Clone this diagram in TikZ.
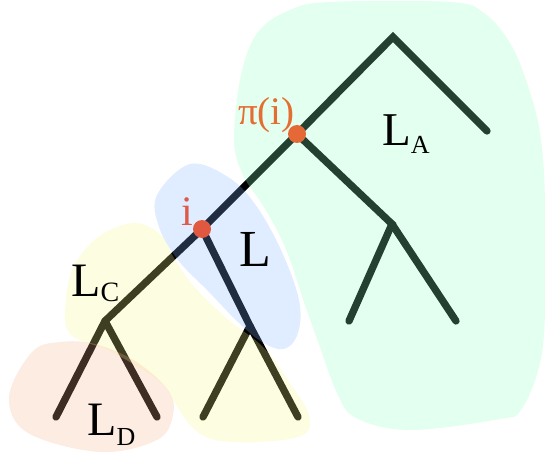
\documentclass[tikz,border=0pt]{standalone}
\usepackage{fontspec}
\setmainfont{Liberation Serif}
\definecolor{gblob}{RGB}{140,255,195}
\definecolor{bblob}{RGB}{130,180,255}
\definecolor{yblob}{RGB}{248,248,140}
\definecolor{oblob}{RGB}{248,180,140}
\definecolor{pidot}{RGB}{228,105,55}
\definecolor{idot}{RGB}{225,88,65}
\definecolor{pitext}{RGB}{228,110,50}
\definecolor{itext}{RGB}{222,90,72}
\tikzset{
  edge/.style={line width=7.3pt, line cap=round, line join=miter, black},
  blob/.style={fill opacity=0.25, draw=none},
  dotnode/.style={circle, inner sep=0pt, minimum size=18pt, draw=none},
  lab/.style={inner sep=0pt, anchor=base west},
}
\newcommand{\Lsub}[4]{{\fontsize{#1}{#1}\selectfont L}\raisebox{-#3pt}{\fontsize{#4}{#4}\selectfont #2}}
\begin{document}
\begin{tikzpicture}[x=1pt,y=-1pt]
\useasboundingbox (0,0) rectangle (545,457);
% tree coordinates
\coordinate (root) at (393,37);
\coordinate (rl) at (487,131);
\coordinate (pi) at (297,134);
\coordinate (A) at (392,224);
\coordinate (al) at (349,321);
\coordinate (ar) at (456,321);
\coordinate (i) at (202,229);
\coordinate (C) at (105,321);
\coordinate (cl) at (56,417);
\coordinate (cr) at (157,417);
\coordinate (M) at (250,326);
\coordinate (ml) at (203,417);
\coordinate (mr) at (298,417);
% edges
\draw[edge] (rl) -- (root) -- (pi) -- (i) -- (C) -- (cl);
\draw[edge] (C) -- (cr);
\draw[edge] (pi) -- (A) -- (al);
\draw[edge] (A) -- (ar);
\draw[edge] (i) -- (M) -- (ml);
\draw[edge] (M) -- (mr);
% blobs
\fill[blob, gblob] plot[smooth cycle, tension=0.6] coordinates {
 (258,32) (290,10) (330,2) (450,2) (484,13) (510,43) (527,83) (540,133) (545,200) (545,313) (539,367) (521,410) (500,419) (410,430) (356,418) (337,393) (320,347) (306,308) (290,260) (278,232) (262,204) (243,175) (234,140) (241,75)};
\fill[blob, bblob] plot[smooth cycle, tension=0.6] coordinates {
 (190,164) (228,177) (255,204) (281,250) (299,300) (298,333) (284,349) (262,342) (238,322) (207,290) (178,260) (159,227) (157,195)};
\fill[blob, yblob] plot[smooth cycle, tension=0.6] coordinates {
 (133,223) (160,234) (174,258) (192,284) (225,317) (263,347) (290,383) (309,415) (303,435) (260,442) (215,440) (192,427) (176,405) (160,382) (112,352) (70,334) (66,300) (74,266) (98,237)};
\fill[blob, oblob] plot[smooth cycle, tension=0.6] coordinates {
 (60,342) (95,344) (135,361) (168,390) (173,415) (157,440) (100,452) (28,433) (9,397) (32,352)};
% dots
\node[dotnode, fill=pidot] (pidot) at (pi) {};
\node[dotnode, fill=idot] (idotn) at (i) {};
% labels
\node[lab, text=pitext] (pilab) at (238,125) {\fontsize{39}{39}\selectfont π(i)};
\node[lab, text=itext] (ilab) at (181,225) {\fontsize{42}{42}\selectfont i};
\node[lab] (LA) at (382,146) {\Lsub{47}{A}{8}{26}};
\node[lab] (LL) at (239,266) {\fontsize{52}{52}\selectfont L};
\node[lab] (LC) at (71,296) {\Lsub{48}{C}{5}{28}};
\node[lab] (LD) at (87,435) {\Lsub{48}{D}{10}{26}};
\end{tikzpicture}
\end{document}
